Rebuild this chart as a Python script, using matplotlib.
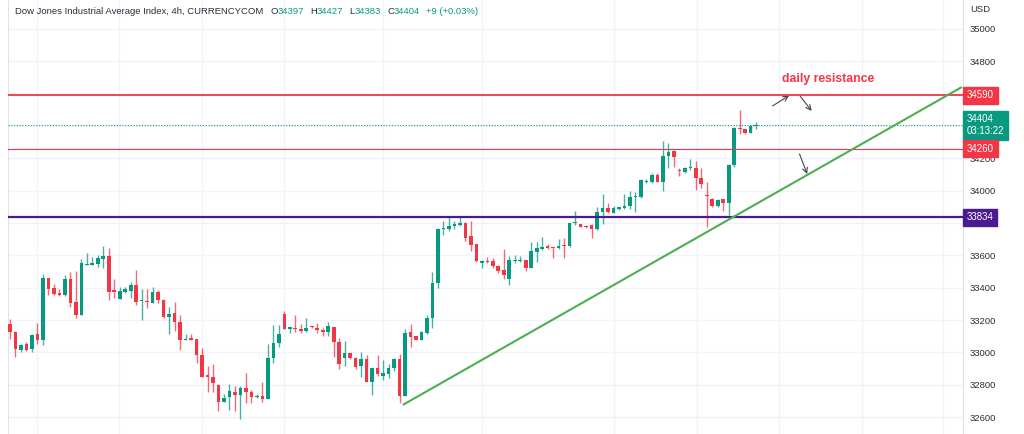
import matplotlib
matplotlib.use("Agg")
import matplotlib.pyplot as plt
import matplotlib.transforms as mtransforms
import numpy as np

plt.rcParams["font.family"] = ["Liberation Sans", "DejaVu Sans"]

# 4h candles (open, high, low, close)
opens = [33173, 33128, 33012, 33050, 33019, 33111, 33074, 33458, 33400, 33365,
         33355, 33452, 33313, 33230, 33540, 33540, 33548, 33575, 33596, 33383,
         33328, 33375, 33380, 33416, 33315, 33318, 33307, 33375, 33324, 33219,
         33245, 33190, 33074, 33087, 33085, 32983, 32858, 32850, 32798, 32695,
         32724, 32757, 32734, 32781, 32757, 32724, 32730, 32709, 32967, 33060,
         33235, 33146, 33153, 33142, 33130, 33163, 33148, 33138, 33128, 33159,
         33066, 32965, 32994, 32967, 32915, 32957, 32819, 32901, 32854, 32868,
         32901, 32957, 32730, 33126, 33099, 33078, 33120, 33214, 33431, 33761,
         33761, 33779, 33790, 33802, 33718, 33672, 33553, 33567, 33563, 33534,
         33507, 33456, 33567, 33563, 33569, 33524, 33621, 33638, 33660, 33652,
         33644, 33662, 33658, 33798, 33796, 33782, 33788, 33761, 33870, 33895,
         33864, 33889, 33891, 33905, 33959, 33959, 34052, 34052, 34097, 34056,
         34214, 34243, 34124, 34118, 34141, 34143, 34080, 33974, 33951, 33903,
         33947, 33926, 34160, 34385, 34379, 34358, 34397]
highs = [33204, 33130, 33054, 33064, 33111, 33183, 33482, 33462, 33421, 33394,
         33476, 33499, 33503, 33579, 33616, 33590, 33602, 33658, 33647, 33456,
         33406, 33406, 33437, 33509, 33390, 33394, 33406, 33384, 33328, 33283,
         33313, 33229, 33115, 33115, 33085, 33025, 32915, 32930, 32802, 32740,
         32802, 32792, 32792, 32874, 32765, 32740, 32818, 33050, 33169, 33169,
         33256, 33159, 33229, 33173, 33210, 33163, 33183, 33153, 33187, 33159,
         33087, 33070, 32998, 32971, 33002, 32983, 32901, 32983, 32952, 32930,
         32967, 32988, 33142, 33177, 33101, 33130, 33229, 33497, 33769, 33810,
         33843, 33812, 33837, 33806, 33812, 33672, 33569, 33590, 33584, 33538,
         33637, 33596, 33600, 33594, 33573, 33682, 33682, 33712, 33669, 33654,
         33699, 33706, 33802, 33877, 33796, 33788, 33792, 33897, 33978, 33922,
         33905, 33901, 33980, 33998, 33990, 34070, 34070, 34111, 34107, 34307,
         34293, 34250, 34139, 34149, 34195, 34185, 34139, 34055, 33955, 33951,
         33951, 34164, 34394, 34498, 34383, 34406, 34427]
lows = [33080, 32970, 33002, 33008, 33002, 33050, 33045, 33353, 33355, 33348,
        33348, 33280, 33214, 33230, 33538, 33538, 33528, 33524, 33324, 33338,
        33328, 33365, 33338, 33291, 33198, 33274, 33303, 33307, 33210, 33115,
        33132, 33012, 33074, 33078, 32936, 32847, 32755, 32757, 32637, 32693,
        32641, 32637, 32586, 32689, 32689, 32716, 32695, 32709, 32936, 33035,
        33142, 33122, 33126, 33122, 33126, 33153, 33122, 33101, 33101, 32971,
        32895, 32915, 32961, 32898, 32848, 32819, 32734, 32854, 32829, 32843,
        32884, 32689, 32730, 33033, 33074, 33074, 33115, 33150, 33398, 33728,
        33751, 33765, 33781, 33689, 33625, 33559, 33524, 33555, 33524, 33493,
        33456, 33419, 33555, 33559, 33501, 33524, 33559, 33634, 33640, 33586,
        33640, 33586, 33654, 33788, 33774, 33772, 33706, 33757, 33792, 33860,
        33860, 33881, 33885, 33885, 33870, 33953, 34045, 34045, 34052, 34000,
        34138, 34149, 34091, 34112, 34128, 34003, 34014, 33773, 33899, 33899,
        33872, 33851, 34149, 34348, 34352, 34354, 34383]
closes = [33126, 33023, 33045, 33015, 33107, 33074, 33458, 33390, 33363, 33355,
          33452, 33307, 33230, 33551, 33544, 33555, 33581, 33596, 33375, 33375,
          33380, 33390, 33416, 33311, 33318, 33313, 33375, 33322, 33219, 33239,
          33190, 33074, 33085, 33078, 32981, 32847, 32847, 32808, 32695, 32720,
          32761, 32734, 32781, 32757, 32724, 32730, 32709, 32967, 33060, 33111,
          33146, 33155, 33142, 33130, 33153, 33157, 33136, 33128, 33163, 33064,
          32930, 32994, 32965, 32911, 32957, 32819, 32901, 32868, 32870, 32901,
          32957, 32730, 33122, 33095, 33078, 33126, 33214, 33431, 33761, 33765,
          33779, 33792, 33802, 33709, 33666, 33565, 33567, 33559, 33532, 33501,
          33480, 33569, 33569, 33569, 33524, 33627, 33645, 33654, 33646, 33644,
          33660, 33658, 33798, 33804, 33778, 33776, 33761, 33870, 33895, 33866,
          33891, 33897, 33907, 33963, 33965, 34066, 34056, 34097, 34052, 34214,
          34239, 34208, 34120, 34143, 34145, 34080, 34039, 33968, 33903, 33945,
          33926, 34160, 34389, 34379, 34358, 34400, 34404]

# drawn levels
resistance = 34590
level_mid = 34260
support = 33834
last_price = 34404
countdown = "03:13:22"

# green trend line (bar index, price)
trend_x = [71.6, 173.5]
trend_y = [32675, 34641]

# hand-drawn arrows: (start, end)
arrows = [((139.0, 34524), (142.0, 34588)),
          ((144.0, 34586), (146.1, 34493)),
          ((143.9, 34227), (145.3, 34103))]

price_ticks = list(range(32600, 35001, 200))
time_grid = [4.9, 19.9, 35.0, 50.0, 68.0, 86.0, 110.0, 125.2, 140.2, 155.3, 170.1]

GREEN = "#089981"
RED = "#F23645"
PURPLE = "#4A1A8F"
TEXT = "#2A2E39"

fig = plt.figure(figsize=(10.24, 4.34), dpi=100)
fig.patch.set_facecolor("white")
ax = fig.add_axes([8 / 1024, 0, 955 / 1024, 1])

opens_a = np.array(opens)
closes_a = np.array(closes)
idx = np.arange(len(opens))
up = closes_a >= opens_a
colors = np.where(up, GREEN, RED)

# grid
for gx in time_grid:
    ax.axvline(gx, color="#F0F3FA", lw=1, zorder=0)
for p in price_ticks:
    ax.axhline(p, color="#F0F3FA", lw=1, zorder=0)

# candles
ax.vlines(idx, lows, highs, colors=colors, lw=1, alpha=0.75, zorder=2)
bottoms = np.minimum(opens_a, closes_a)
heights = np.maximum(np.abs(closes_a - opens_a), 6)
ax.bar(idx, heights, bottom=bottoms, width=0.66, color=colors, zorder=3, linewidth=0)

# levels
ax.axhline(resistance, color=RED, lw=1.3, zorder=4)
ax.axhline(level_mid, color=RED, lw=0.8, zorder=4)
ax.axhline(support, color=PURPLE, lw=1.6, zorder=4)
ax.axhline(last_price, color=GREEN, lw=0.8, ls=(0, (1, 1.5)), zorder=4)

ax.plot(trend_x, trend_y, color="#4CAF50", lw=1.5, zorder=5, solid_capstyle="butt")

for start, end in arrows:
    ax.annotate("", xy=end, xytext=start,
                arrowprops=dict(arrowstyle="->", color="#434651", lw=0.8,
                                mutation_scale=9, shrinkA=0, shrinkB=0))

ax.text(149.2, 34690, "daily resistance", color=RED, fontsize=8.8,
        fontweight="bold", ha="center", va="center")

ax.set_xlim(-0.365, 173.7)
ax.set_ylim(32495, 35179)

ax.yaxis.tick_right()
ax.set_yticks(price_ticks)
ax.set_yticklabels([str(p) for p in price_ticks])
ax.tick_params(axis="y", length=0, pad=5, labelsize=6.8, labelcolor=TEXT)
ax.set_xticks([])
for side in ["top", "bottom"]:
    ax.spines[side].set_visible(False)
ax.spines["left"].set_color("#E0E3EB")
ax.spines["right"].set_color("#E0E3EB")

# price labels on the scale
blend = mtransforms.blended_transform_factory(ax.transAxes, ax.transData)


def scale_label(price, text, color):
    ax.annotate(text, xy=(1.0, price), xycoords=blend, xytext=(2.8, 0),
                textcoords="offset points", ha="left", va="center",
                color="white", fontsize=7, annotation_clip=False, zorder=10,
                linespacing=1.25,
                bbox=dict(boxstyle="square,pad=0.38", fc=color, ec=color))


scale_label(resistance, str(resistance), RED)
scale_label(last_price, f"{last_price}\n{countdown}", GREEN)
scale_label(level_mid, str(level_mid), RED)
scale_label(support, str(support), PURPLE)

fig.text(970 / 1024, 1 - 10 / 434, "USD", fontsize=6.8, color=TEXT,
         ha="left", va="center")

# header line, laid out piece by piece (gap in pixels before each piece)
header = [("Dow Jones Industrial Average Index, 4h, CURRENCYCOM", 0, TEXT),
          ("O", 7, TEXT), ("34397", 0, GREEN),
          ("H", 6, TEXT), ("34427", 0, GREEN),
          ("L", 6, TEXT), ("34383", 0, GREEN),
          ("C", 6, TEXT), ("34404", 0, GREEN),
          ("+9 (+0.03%)", 6, GREEN)]
renderer = fig.canvas.get_renderer()
x_px = 15
for txt, gap, col in header:
    x_px += gap
    t = fig.text(x_px / 1024, 1 - 11 / 434, txt, fontsize=6.8, color=col,
                 ha="left", va="center")
    x_px += t.get_window_extent(renderer).width

fig.savefig("out.png", dpi=100, facecolor="white")
